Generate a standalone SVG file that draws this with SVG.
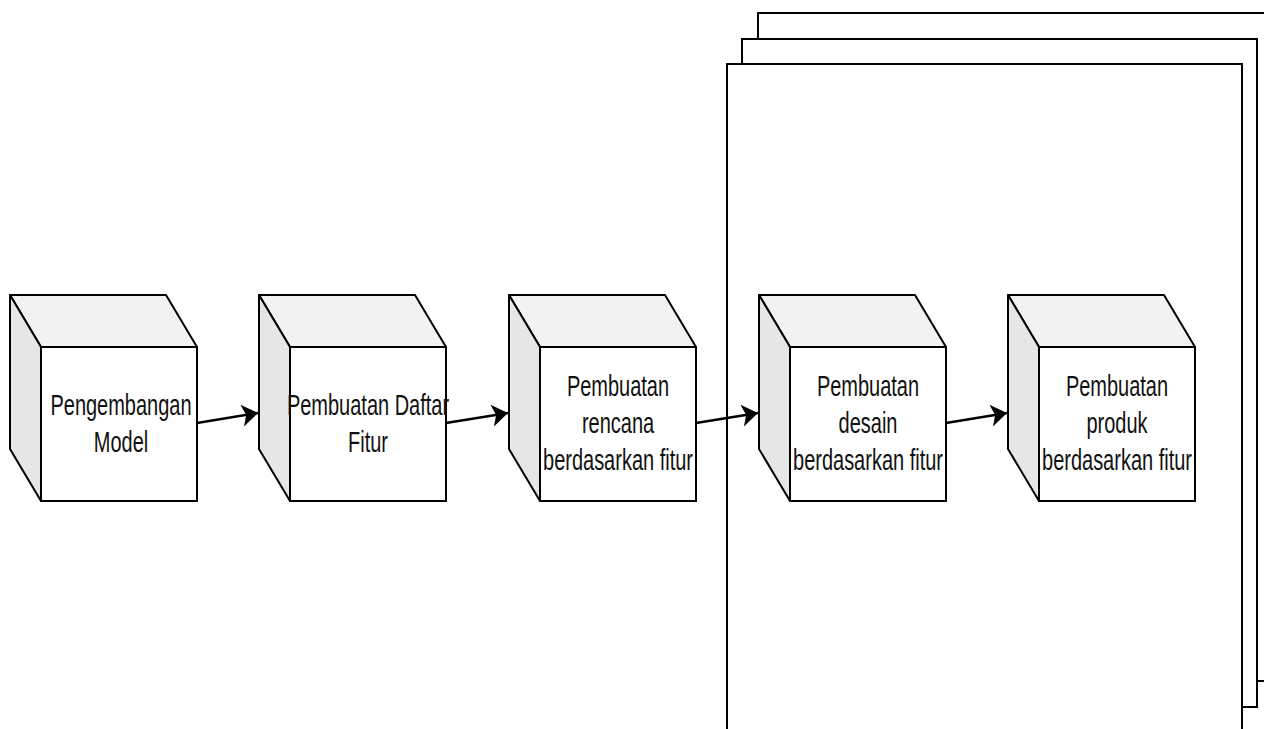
<svg xmlns="http://www.w3.org/2000/svg" width="1264" height="729" viewBox="0 0 1264 729">
  <style>
    .page { fill: #ffffff; stroke: #000000; stroke-width: 2; }
    .top { fill: #f2f2f2; stroke: #000000; stroke-width: 2; stroke-linejoin: round; }
    .side { fill: #e6e6e6; stroke: #000000; stroke-width: 2; stroke-linejoin: round; }
    .front { fill: #ffffff; stroke: #000000; stroke-width: 2; }
    .lbl { font-family: "Liberation Sans", Arial, sans-serif; font-size: 20px; fill: #111111; text-anchor: middle; }
    .edge { fill: none; stroke: #000000; stroke-width: 2.5; }
  </style>
  <defs>
    <marker id="arrow" markerUnits="userSpaceOnUse" markerWidth="20" markerHeight="26" viewBox="-1 -13 20 26" refX="16" refY="0" orient="auto">
      <path d="M0,-11 L16,0 L0,11 L4,0 Z" fill="#000000"/>
    </marker>
  </defs>
  <rect width="1264" height="729" fill="#ffffff"/>

  <g id="stack">
    <rect class="page" x="758" y="13" width="515" height="668"/>
    <rect class="page" x="742" y="39" width="515" height="668"/>
    <rect class="page" x="727" y="64" width="515" height="680"/>
  </g>

  <g id="connectors">
    <line class="edge" x1="197" y1="423" x2="258" y2="413" marker-end="url(#arrow)"/>
    <line class="edge" x1="446" y1="423" x2="508" y2="413" marker-end="url(#arrow)"/>
    <line class="edge" x1="696" y1="423" x2="758" y2="413" marker-end="url(#arrow)"/>
    <line class="edge" x1="946" y1="423" x2="1007" y2="413" marker-end="url(#arrow)"/>
  </g>

  <g id="node1">
    <polygon class="top" points="10,295 166,295 197,347 41,347"/>
    <polygon class="side" points="10,295 41,347 41,501 10,449"/>
    <rect class="front" x="41" y="347" width="156" height="154"/>
    <g transform="translate(121,415) scale(1,1.43)">
      <text class="lbl" x="0" y="0">Pengembangan</text>
      <text class="lbl" x="0" y="26">Model</text>
    </g>
  </g>

  <g id="node2">
    <polygon class="top" points="259,295 415,295 446,347 290,347"/>
    <polygon class="side" points="259,295 290,347 290,501 259,449"/>
    <rect class="front" x="290" y="347" width="156" height="154"/>
    <g transform="translate(368,415) scale(1,1.43)">
      <text class="lbl" x="0" y="0">Pembuatan Daftar</text>
      <text class="lbl" x="0" y="26">Fitur</text>
    </g>
  </g>

  <g id="node3">
    <polygon class="top" points="509,295 665,295 696,347 540,347"/>
    <polygon class="side" points="509,295 540,347 540,501 509,449"/>
    <rect class="front" x="540" y="347" width="156" height="154"/>
    <g transform="translate(618,396) scale(1,1.43)">
      <text class="lbl" x="0" y="0">Pembuatan</text>
      <text class="lbl" x="0" y="25.9">rencana</text>
      <text class="lbl" x="0" y="51.8">berdasarkan fitur</text>
    </g>
  </g>

  <g id="node4">
    <polygon class="top" points="759,295 915,295 946,347 790,347"/>
    <polygon class="side" points="759,295 790,347 790,501 759,449"/>
    <rect class="front" x="790" y="347" width="156" height="154"/>
    <g transform="translate(868,396) scale(1,1.43)">
      <text class="lbl" x="0" y="0">Pembuatan</text>
      <text class="lbl" x="0" y="25.9">desain</text>
      <text class="lbl" x="0" y="51.8">berdasarkan fitur</text>
    </g>
  </g>

  <g id="node5">
    <polygon class="top" points="1008,295 1164,295 1195,347 1039,347"/>
    <polygon class="side" points="1008,295 1039,347 1039,501 1008,449"/>
    <rect class="front" x="1039" y="347" width="156" height="154"/>
    <g transform="translate(1117,396) scale(1,1.43)">
      <text class="lbl" x="0" y="0">Pembuatan</text>
      <text class="lbl" x="0" y="25.9">produk</text>
      <text class="lbl" x="0" y="51.8">berdasarkan fitur</text>
    </g>
  </g>
</svg>
